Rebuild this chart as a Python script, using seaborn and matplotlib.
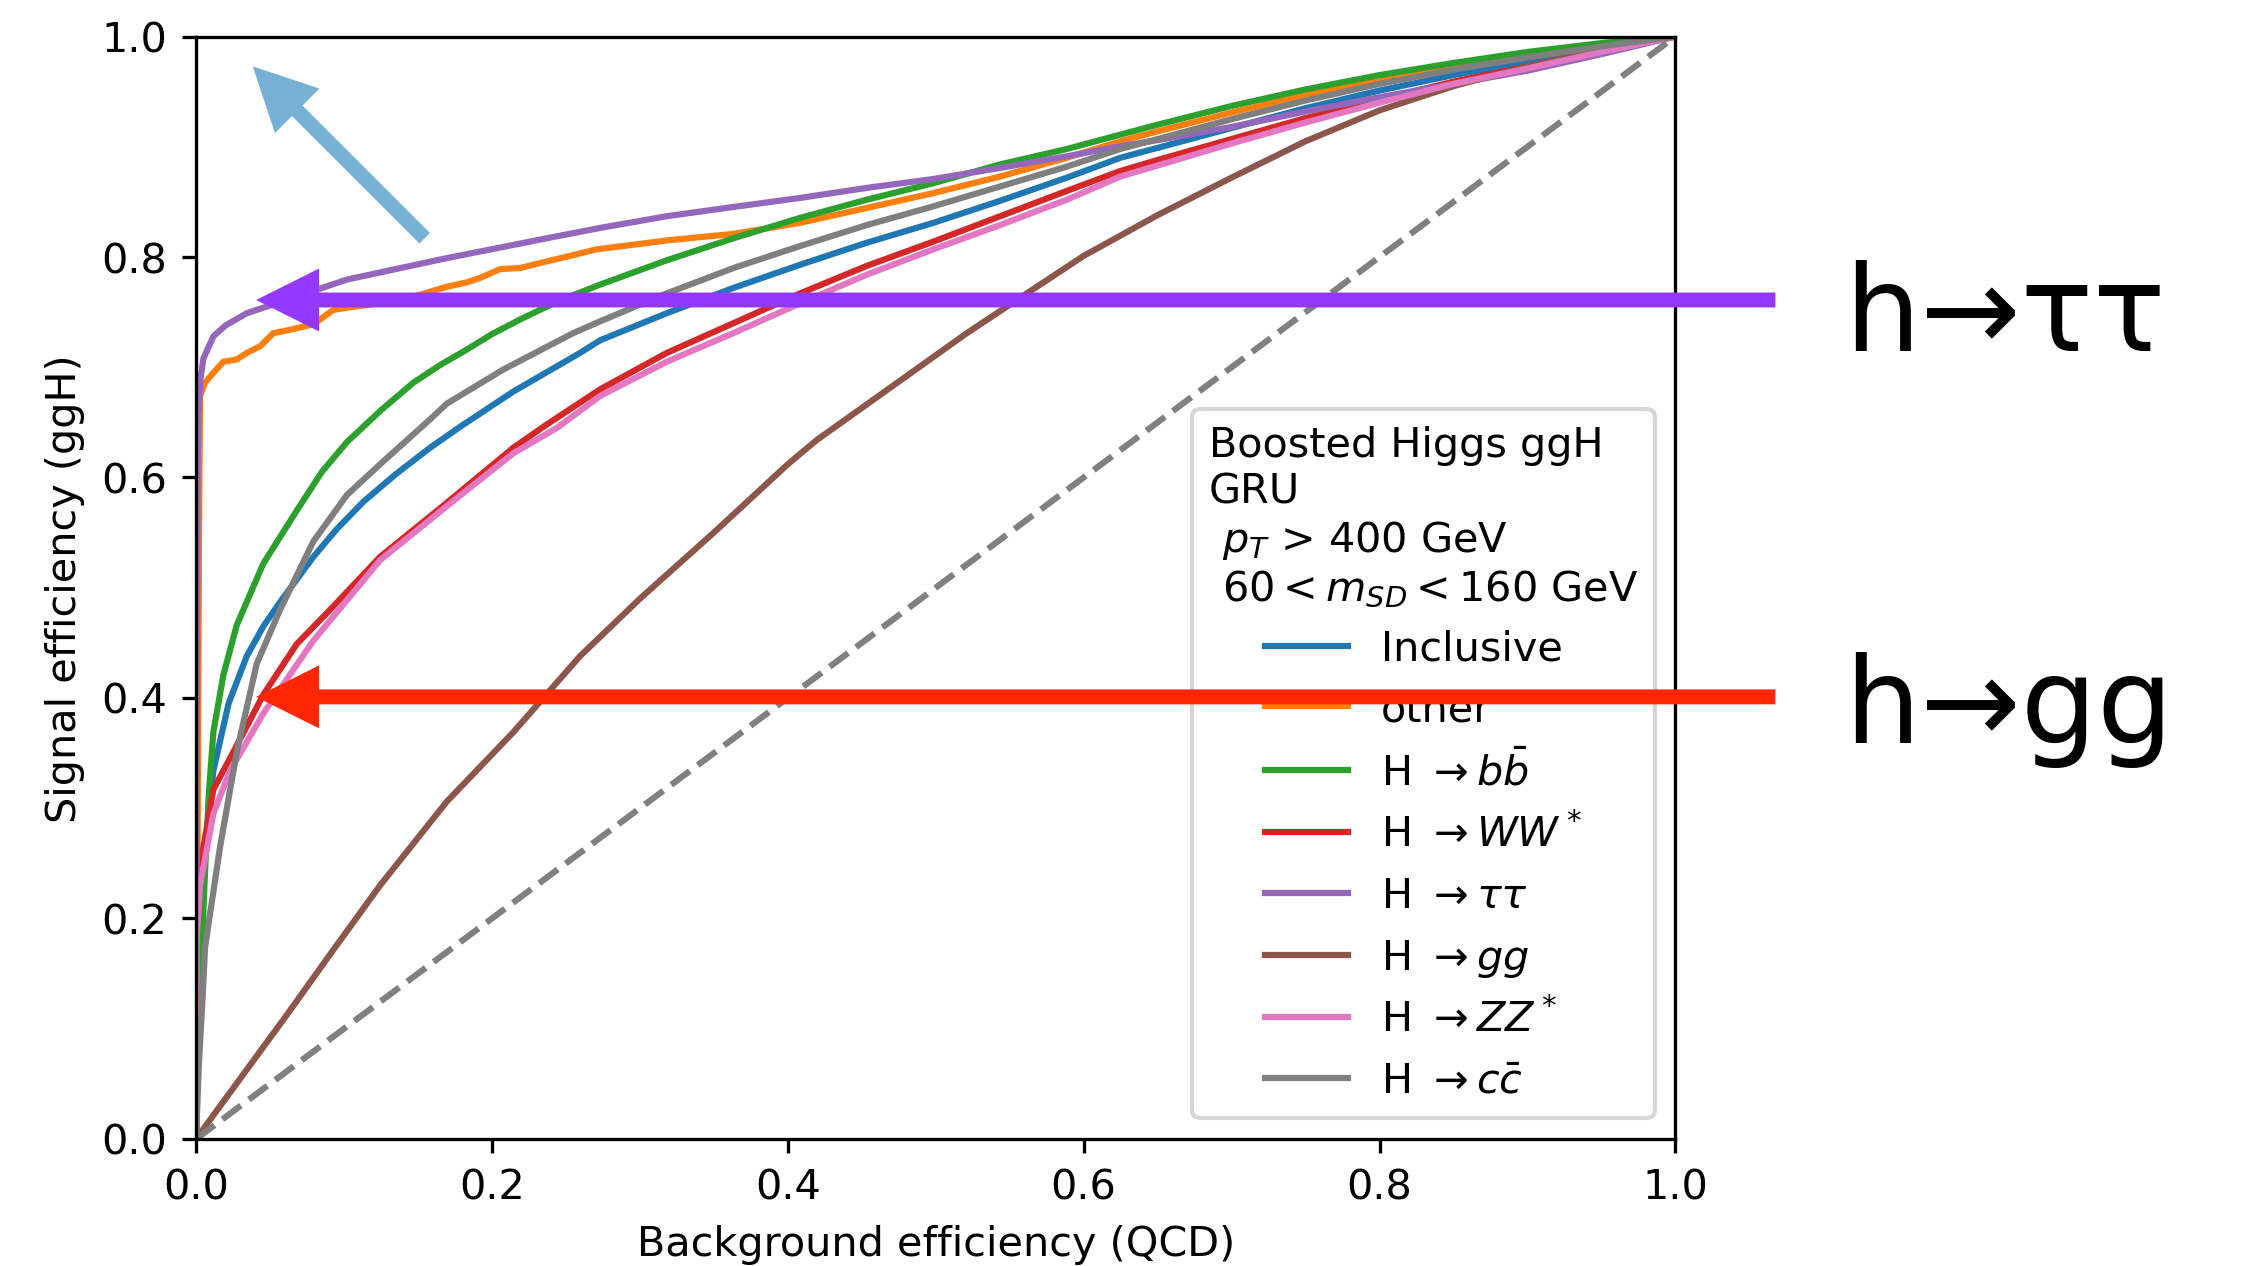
import matplotlib
matplotlib.use("Agg")
import matplotlib.pyplot as plt
from matplotlib.patches import FancyArrowPatch, ArrowStyle
import seaborn as sns

# ROC curves: background (QCD) efficiency vs signal (ggH) efficiency
inclusive_fpr = [0.0, 0.001, 0.003, 0.006, 0.0117, 0.022, 0.0343, 0.0455, 0.0568, 0.0793, 0.095,
                 0.1131, 0.135, 0.1582, 0.1785, 0.2145, 0.2596, 0.2732, 0.3182, 0.3633, 0.4084,
                 0.4535, 0.4985, 0.5436, 0.5887, 0.6248, 0.65, 0.70, 0.75, 0.80, 0.85, 0.90,
                 0.95, 1.0]
inclusive_tpr = [0.0, 0.12, 0.20, 0.26, 0.334, 0.395, 0.438, 0.465, 0.487, 0.528, 0.553,
                 0.578, 0.603, 0.627, 0.646, 0.678, 0.713, 0.7245, 0.749, 0.772, 0.793,
                 0.813, 0.831, 0.851, 0.872, 0.890, 0.899, 0.917, 0.935, 0.951, 0.965, 0.977,
                 0.989, 1.0]

other_fpr = [0.0, 0.001, 0.002, 0.0027, 0.0061, 0.0117, 0.0185, 0.0275, 0.0343, 0.0433, 0.0523,
             0.0636, 0.0793, 0.0928, 0.1019, 0.1244, 0.1469, 0.1695, 0.183, 0.192, 0.2055, 0.219,
             0.237, 0.2528, 0.2709, 0.289, 0.3182, 0.3633, 0.4084, 0.4535, 0.4985, 0.5436,
             0.5887, 0.6248, 0.65, 0.70, 0.75, 0.80, 0.85, 0.90, 0.95, 1.0]
other_tpr = [0.0, 0.25, 0.55, 0.674, 0.686, 0.695, 0.705, 0.707, 0.713, 0.719, 0.731,
             0.734, 0.739, 0.752, 0.754, 0.758, 0.764, 0.773, 0.777, 0.781, 0.789, 0.790,
             0.796, 0.801, 0.807, 0.810, 0.815, 0.821, 0.831, 0.8445, 0.858, 0.873,
             0.890, 0.905, 0.914, 0.931, 0.947, 0.961, 0.973, 0.983, 0.992, 1.0]

bb_fpr = [0.0, 0.001, 0.0025, 0.0038, 0.006, 0.0085, 0.0117, 0.0185, 0.0275, 0.0455, 0.0681,
          0.085, 0.1019, 0.125, 0.1469, 0.165, 0.183, 0.20, 0.22, 0.245, 0.2732, 0.3182,
          0.3633, 0.4084, 0.4535, 0.4985, 0.5436, 0.5887, 0.6248, 0.65, 0.70, 0.75, 0.80,
          0.85, 0.90, 0.95, 1.0]
bb_tpr = [0.0, 0.08, 0.13, 0.17, 0.24, 0.31, 0.369, 0.421, 0.466, 0.522, 0.570,
          0.605, 0.632, 0.661, 0.686, 0.702, 0.716, 0.730, 0.744, 0.760, 0.775, 0.797,
          0.817, 0.8355, 0.852, 0.867, 0.884, 0.898, 0.911, 0.920, 0.937, 0.952, 0.965,
          0.976, 0.986, 0.994, 1.0]

ww_fpr = [0.0, 0.0003, 0.0027, 0.0117, 0.0252, 0.0455, 0.0681, 0.0906, 0.1244, 0.1695, 0.2145,
          0.237, 0.2732, 0.3182, 0.3633, 0.4084, 0.4535, 0.4985, 0.5436, 0.5887, 0.6248,
          0.65, 0.70, 0.75, 0.80, 0.85, 0.90, 0.95, 1.0]
ww_tpr = [0.0, 0.20, 0.247, 0.317, 0.351, 0.403, 0.449, 0.480, 0.528, 0.577, 0.627,
          0.648, 0.680, 0.713, 0.740, 0.767, 0.792, 0.814, 0.837, 0.860, 0.878,
          0.888, 0.907, 0.926, 0.943, 0.959, 0.973, 0.987, 1.0]

tautau_fpr = [0.0, 0.0005, 0.001, 0.0014, 0.003, 0.005, 0.0117, 0.02, 0.0343, 0.05, 0.07,
              0.1019, 0.1695, 0.2371, 0.2732, 0.3182, 0.3633, 0.4084, 0.4535, 0.4985, 0.5436,
              0.5887, 0.6248, 0.65, 0.70, 0.75, 0.80, 0.85, 0.90, 0.95, 1.0]
tautau_tpr = [0.0, 0.30, 0.60, 0.6525, 0.69, 0.708, 0.728, 0.738, 0.749, 0.756, 0.765,
              0.7795, 0.799, 0.817, 0.8264, 0.837, 0.8454, 0.8536, 0.8627, 0.8708, 0.8808,
              0.8914, 0.9005, 0.906, 0.918, 0.932, 0.945, 0.957, 0.969, 0.984, 1.0]

gg_fpr = [0.0, 0.03, 0.06, 0.0928, 0.1244, 0.1695, 0.2145, 0.2596, 0.30, 0.35, 0.40,
          0.4196, 0.5211, 0.5616, 0.60, 0.65, 0.70, 0.75, 0.80, 0.85, 0.90, 0.95, 1.0]
gg_tpr = [0.0, 0.055, 0.11, 0.1715, 0.230, 0.306, 0.369, 0.438, 0.49, 0.55, 0.612,
          0.634, 0.731, 0.767, 0.801, 0.838, 0.872, 0.905, 0.933, 0.955, 0.973, 0.988, 1.0]

zz_fpr = [0.0, 0.0003, 0.0027, 0.0117, 0.023, 0.0455, 0.0793, 0.1244, 0.1695, 0.2145, 0.244,
          0.2732, 0.3182, 0.3633, 0.4084, 0.4535, 0.4985, 0.5436, 0.5887, 0.6248, 0.65,
          0.70, 0.75, 0.80, 0.85, 0.90, 0.95, 1.0]
zz_tpr = [0.0, 0.18, 0.230, 0.295, 0.334, 0.386, 0.452, 0.525, 0.574, 0.622, 0.645,
          0.674, 0.705, 0.731, 0.758, 0.784, 0.807, 0.829, 0.852, 0.873, 0.883,
          0.903, 0.922, 0.940, 0.957, 0.971, 0.986, 1.0]

cc_fpr = [0.0, 0.002, 0.0045, 0.0061, 0.0162, 0.0275, 0.041, 0.0568, 0.0793, 0.1019, 0.1244,
          0.158, 0.1695, 0.2078, 0.255, 0.2732, 0.3182, 0.3633, 0.4084, 0.4535, 0.4985,
          0.5436, 0.5887, 0.6248, 0.65, 0.70, 0.75, 0.80, 0.85, 0.90, 0.95, 1.0]
cc_tpr = [0.0, 0.07, 0.13, 0.174, 0.2645, 0.351, 0.431, 0.480, 0.542, 0.584, 0.612,
          0.6525, 0.667, 0.698, 0.731, 0.7417, 0.767, 0.790, 0.810, 0.829, 0.846,
          0.864, 0.882, 0.898, 0.907, 0.925, 0.942, 0.957, 0.970, 0.981, 0.991, 1.0]

labels = ["Inclusive", "other", r"H $\to b\bar{b}$", r"H $\to WW^*$", r"H $\to \tau\tau$",
          r"H $\to gg$", r"H $\to ZZ^*$", r"H $\to c\bar{c}$"]
fprs = [inclusive_fpr, other_fpr, bb_fpr, ww_fpr, tautau_fpr, gg_fpr, zz_fpr, cc_fpr]
tprs = [inclusive_tpr, other_tpr, bb_tpr, ww_tpr, tautau_tpr, gg_tpr, zz_tpr, cc_tpr]

legend_title = "Boosted Higgs ggH\nGRU\n $p_T$ > 400 GeV\n $60 < m_{SD} < 160$ GeV"

# Highlighted working points (signal efficiency) and their callouts
tautau_wp = 0.761
gg_wp = 0.401

DPI = 298.2
W, H = 2249, 1266
fig = plt.figure(figsize=((W + 0.5) / DPI, (H + 0.5) / DPI), dpi=DPI)
ax = fig.add_axes([196 / W, 1 - 1139 / H, 1479 / W, 1102 / H])

palette = sns.color_palette("tab10", len(labels))
for lab, fpr, tpr, col in zip(labels, fprs, tprs, palette):
    sns.lineplot(x=fpr, y=tpr, ax=ax, color=col, linewidth=1.5, label=lab,
                 estimator=None, sort=False)

sns.lineplot(x=[0, 1], y=[0, 1], ax=ax, color="grey", linestyle="--", linewidth=1.5,
             estimator=None, legend=False)

ax.set_xlim(0, 1)
ax.set_ylim(0, 1)
ax.set_xlabel("Background efficiency (QCD)")
ax.set_ylabel("Signal efficiency (ggH)")

handles = [l for l in ax.get_lines() if not l.get_label().startswith("_")]
ax.legend(handles=handles, labels=labels, title=legend_title, loc="lower right")


def callout(p0, p1, color):
    style = ArrowStyle.Simple(head_length=15.2, head_width=15.2, tail_width=3.6)
    arr = FancyArrowPatch(p0, p1, arrowstyle=style, mutation_scale=1, color=color,
                          linewidth=0, shrinkA=0, shrinkB=0, clip_on=False, zorder=10,
                          transform=ax.transData)
    ax.add_patch(arr)


callout((0.1546, 0.817), (0.0383, 0.973), "#77B1D5")
callout((1.0676, tautau_wp), (0.0406, tautau_wp), "#9437FF")
callout((1.0676, gg_wp), (0.0406, gg_wp), "#FF2600")

fig.text(1844 / W, 1 - 351 / H, "h→ττ", fontsize=29, ha="left", va="baseline")
fig.text(1844 / W, 1 - 743 / H, "h→gg", fontsize=29, ha="left", va="baseline")

fig.savefig("out.png", dpi=DPI)
